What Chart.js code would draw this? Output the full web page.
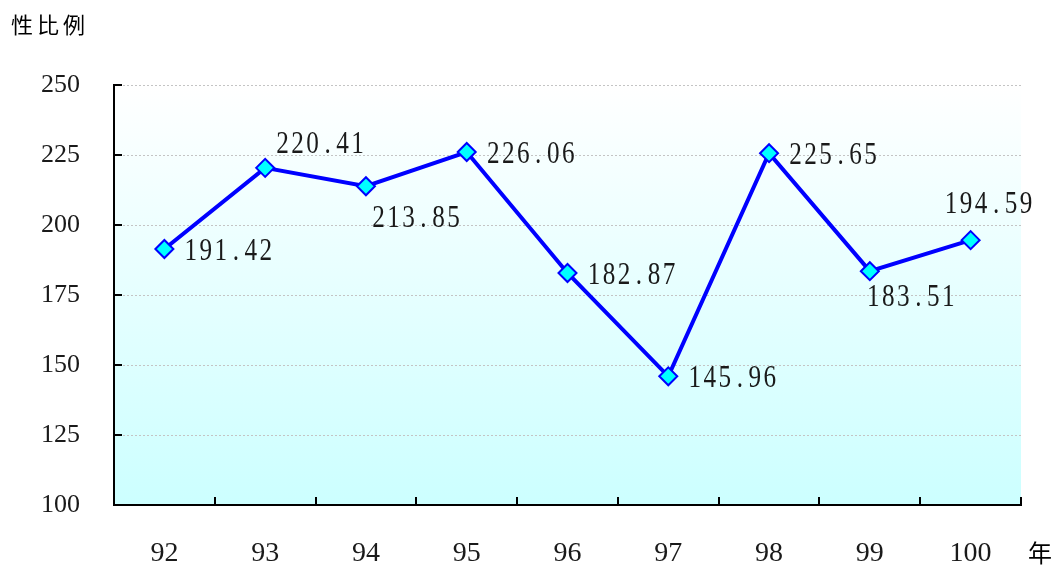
<!DOCTYPE html>
<html>
<head>
<meta charset="utf-8">
<script src="https://cdn.jsdelivr.net/npm/chart.js@4.4.1/dist/chart.umd.min.js"></script>
<style>
  html, body { margin: 0; padding: 0; background: #ffffff; }
  #wrap { width: 1055px; height: 568px; position: relative; }
</style>
</head>
<body>
<div id="wrap"><canvas id="c" width="1055" height="568"></canvas></div>
<script>
const categories = ['92', '93', '94', '95', '96', '97', '98', '99', '100'];
const sexRatio = [191.42, 220.41, 213.85, 226.06, 182.87, 145.96, 225.65, 183.51, 194.59];
const labelPlacement = ['right', 'aboveRight', 'belowRight', 'right', 'right', 'right', 'right', 'below', 'above'];
const yTicks = [100, 125, 150, 175, 200, 225, 250];
const yTitle = '性比例';
const xUnit = '年';

const SERIF = '"Liberation Serif", "Times New Roman", serif';
const CJK = '"Noto Sans CJK TC", "Noto Sans CJK SC", sans-serif';

const bgPlugin = {
  id: 'bg',
  beforeDraw(chart) {
    const { ctx, chartArea: a } = chart;
    const g = ctx.createLinearGradient(0, a.top, 0, a.bottom);
    g.addColorStop(0, '#ffffff');
    g.addColorStop(1, '#ccffff');
    ctx.save();
    ctx.fillStyle = g;
    ctx.fillRect(a.left, a.top, a.right - a.left, a.bottom - a.top);
    ctx.restore();
  }
};

const innerTicksPlugin = {
  id: 'innerTicks',
  afterDraw(chart) {
    const { ctx, chartArea: a, scales } = chart;
    ctx.save();
    ctx.strokeStyle = '#000000';
    ctx.lineWidth = 2;
    ctx.beginPath();
    const xs = scales.x;
    for (let i = 0; i <= categories.length; i++) {
      const px = Math.round(xs.getPixelForValue(i - 0.5));
      ctx.moveTo(px, a.bottom);
      ctx.lineTo(px, a.bottom - 8);
    }
    const ys = scales.y;
    yTicks.forEach(v => {
      const py = Math.round(ys.getPixelForValue(v));
      ctx.moveTo(a.left, py);
      ctx.lineTo(a.left + 8, py);
    });
    ctx.stroke();
    ctx.restore();
  }
};

const textPlugin = {
  id: 'texts',
  afterDraw(chart) {
    const { ctx } = chart;
    const meta = chart.getDatasetMeta(0);
    ctx.save();
    ctx.fillStyle = '#1a1a1a';
    ctx.font = '24px ' + SERIF;
    ctx.textAlign = 'center';
    ctx.textBaseline = 'middle';
    const adv = 15;
    meta.data.forEach((pt, i) => {
      const txt = sexRatio[i].toFixed(2);
      const pos = labelPlacement[i];
      let left, cy;
      if (pos === 'right') { left = pt.x + 19; cy = pt.y + 3; }
      else if (pos === 'aboveRight') { left = pt.x + 10; cy = pt.y - 23; }
      else if (pos === 'belowRight') { left = pt.x + 5; cy = pt.y + 33; }
      else if (pos === 'below') { left = pt.x - 4; cy = pt.y + 27; }
      else { left = pt.x - 27; cy = pt.y - 35; }
      for (let k = 0; k < txt.length; k++) {
        ctx.save();
        ctx.translate(left + k * adv + adv / 2, cy);
        ctx.scale(1.05, 1.3);
        ctx.fillText(txt[k], 0, 0);
        ctx.restore();
      }
    });
    // axis title and unit
    ctx.font = '22px ' + CJK;
    ctx.textAlign = 'left';
    ctx.fillStyle = '#000000';
    ctx.letterSpacing = '4px';
    ctx.fillText(yTitle, 11, 25);
    ctx.letterSpacing = '0px';
    ctx.font = '24px ' + CJK;
    ctx.textAlign = 'center';
    ctx.fillText(xUnit, 1040, 553);
    ctx.restore();
  }
};

new Chart(document.getElementById('c'), {
  type: 'line',
  data: {
    labels: categories,
    datasets: [{
      data: sexRatio,
      borderColor: '#0000ff',
      borderWidth: 4,
      pointStyle: 'rectRot',
      pointRadius: 9,
      pointBorderWidth: 2,
      pointBackgroundColor: '#00ffff',
      pointBorderColor: '#0000ff',
      tension: 0,
      clip: false
    }]
  },
  options: {
    responsive: false,
    animation: false,
    devicePixelRatio: 1,
    layout: { padding: { top: 85, right: 34, left: 0, bottom: 0 } },
    plugins: { legend: { display: false }, tooltip: { enabled: false } },
    scales: {
      x: {
        type: 'category',
        offset: true,
        grid: { display: false, drawTicks: false },
        border: { display: true, color: '#000000', width: 2 },
        ticks: { color: '#1a1a1a', font: { family: SERIF, size: 28 }, padding: 32, maxRotation: 0, autoSkip: false },
        afterFit(s) { s.height = 63; }
      },
      y: {
        min: 100,
        max: 250,
        afterBuildTicks(s) { s.ticks = yTicks.map(v => ({ value: v })); },
        grid: { color: '#c4c4c4', lineWidth: 1, drawTicks: false },
        border: { display: true, color: '#000000', width: 2, dash: [2, 2] },
        ticks: { color: '#1a1a1a', font: { family: SERIF, size: 26 }, padding: 34 },
        afterFit(s) { s.width = 114; }
      }
    }
  },
  plugins: [bgPlugin, innerTicksPlugin, textPlugin]
});
</script>
</body>
</html>
